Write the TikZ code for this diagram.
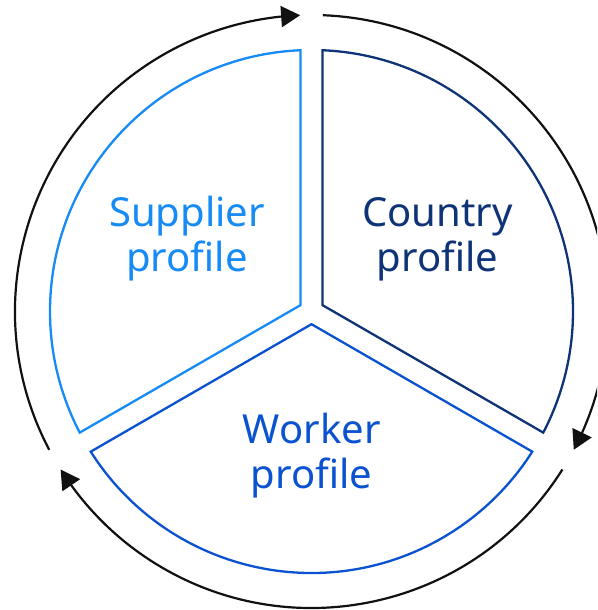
\documentclass[tikz,border=0pt]{standalone}
\usepackage{fontspec}
\setmainfont{Noto Sans}
\usetikzlibrary{arrows.meta,bending}
\definecolor{supC}{HTML}{168AF5}
\definecolor{couC}{HTML}{0E3377}
\definecolor{worC}{HTML}{0A52D0}
\definecolor{cycC}{HTML}{111111}
\begin{document}
\begin{tikzpicture}[x=1pt,y=1pt,
  sector/.style={line width=2.3pt, line join=miter, fill=white},
  cyc/.style={draw=cycC, line width=2.2pt, -{Triangle[length=19pt,width=21pt]}},
  lab/.style={font=\fontsize{40}{45}\selectfont, anchor=base, inner sep=0pt}]
\clip (0,0) rectangle (597,610);
\coordinate (C) at (311.5,298.5);
\begin{scope}[shift={(C)}]
  % sectors
  \draw[sector, draw=supC] (150:12.7) -- (92.41:261.5)
    arc[start angle=92.41, end angle=207.59, radius=261.5] -- cycle;
  \draw[sector, draw=couC] (30:12.7) -- (87.59:261.5)
    arc[start angle=87.59, end angle=-27.59, radius=261.5] -- cycle;
  \draw[sector, draw=worC] (270:12.7) -- (212.41:261.5)
    arc[start angle=212.41, end angle=327.59, radius=261.5] -- cycle;
  % cycle arrows
  \draw[cyc] (207.8:296.5) arc[start angle=207.8, end angle=92.2, radius=296.5];
  \draw[cyc] (87.8:296.5) arc[start angle=87.8, end angle=-27.8, radius=296.5];
  \draw[cyc] (-32.2:296.5) arc[start angle=-32.2, end angle=-147.8, radius=296.5];
\end{scope}
% labels
\node[lab, text=supC] (sup1) at (187,383) {Supplier};
\node[lab, text=supC] (sup2) at (187,338.3) {profile};
\node[lab, text=couC] (cou1) at (437.5,383) {Country};
\node[lab, text=couC] (cou2) at (437.5,338.3) {profile};
\node[lab, text=worC] (wor1) at (311.7,166.7) {Worker};
\node[lab, text=worC] (wor2) at (311.7,121.7) {profile};
\end{tikzpicture}
\end{document}
